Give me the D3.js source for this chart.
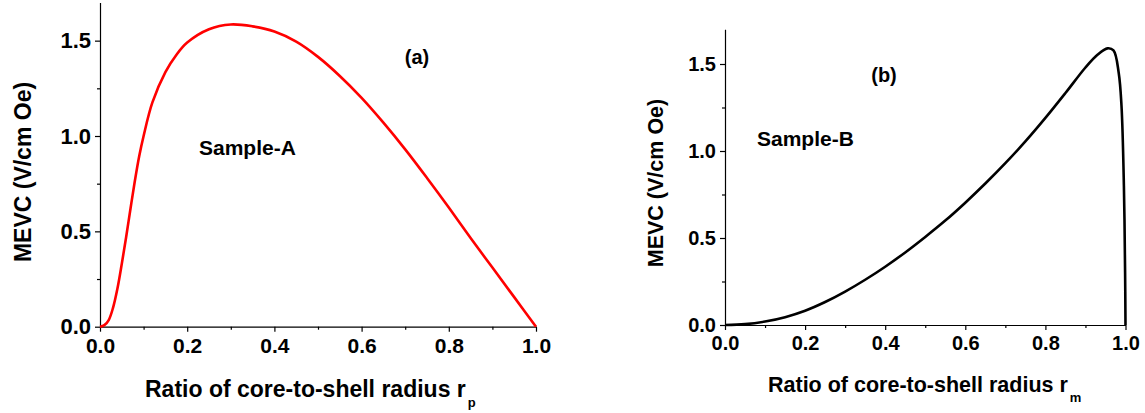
<!DOCTYPE html>
<html>
<head>
<meta charset="utf-8">
<script src="https://cdn.jsdelivr.net/npm/d3@7"></script>
<style>
  html, body { margin: 0; padding: 0; background: #fff; }
  svg text { font-family: "Liberation Sans", Arial, sans-serif; font-weight: bold; fill: #000; }
</style>
</head>
<body>
<svg id="chart" width="1145" height="413"></svg>
<script>
// Sample-A: MEVC versus core-to-shell radius ratio r_p
const ratioA = [0, 0.01, 0.02, 0.03, 0.04, 0.05, 0.06, 0.07, 0.08, 0.09, 0.10, 0.12, 0.15, 0.175, 0.20, 0.25, 0.30, 0.35, 0.40, 0.45, 0.50, 0.55, 0.60, 0.65, 0.70, 0.75, 0.80, 0.85, 0.90, 0.95, 1.00];
const mevcA  = [0, 0.008, 0.035, 0.10, 0.20, 0.33, 0.47, 0.62, 0.765, 0.895, 1.0, 1.175, 1.335, 1.425, 1.49, 1.56, 1.585, 1.575, 1.548, 1.495, 1.415, 1.315, 1.20, 1.07, 0.93, 0.78, 0.625, 0.465, 0.31, 0.155, 0];

// Sample-B: MEVC versus core-to-shell radius ratio r_m
const ratioB = [0, 0.05, 0.10, 0.15, 0.20, 0.25, 0.30, 0.35, 0.40, 0.45, 0.50, 0.55, 0.60, 0.65, 0.70, 0.75, 0.80, 0.85, 0.90, 0.93, 0.955, 0.97, 0.983, 0.99, 0.996, 0.999, 1.00];
const mevcB  = [0, 0.005, 0.02, 0.045, 0.082, 0.132, 0.192, 0.26, 0.335, 0.417, 0.506, 0.60, 0.703, 0.813, 0.93, 1.055, 1.19, 1.333, 1.48, 1.553, 1.59, 1.578, 1.45, 1.26, 0.80, 0.30, 0];

const xTicks = [0, 0.2, 0.4, 0.6, 0.8, 1.0];
const xMinorTicks = [0.1, 0.3, 0.5, 0.7, 0.9];
const yTicks = [0, 0.5, 1.0, 1.5];
const yMinorTicks = [0.25, 0.75, 1.25];

const yTitle = "MEVC (V/cm Oe)";
const xTitle = "Ratio of core-to-shell radius r";

const svg = d3.select("#chart");

function drawPanel(cfg) {
  const x = d3.scaleLinear().domain([0, 1]).range([cfg.left, cfg.right]);
  const y = d3.scaleLinear().domain([0, 1.7]).range([cfg.bottom, cfg.bottom - 1.7 * cfg.pxPerUnit]);
  const g = svg.append("g");

  // x axis: major ticks with labels, minor ticks without
  const xAxis = g.append("g")
    .attr("transform", `translate(0,${cfg.bottom})`)
    .call(d3.axisBottom(x).tickValues(xTicks).tickFormat(d3.format(".1f")).tickSize(5).tickSizeOuter(0).tickPadding(6));
  xAxis.selectAll("text").style("font-size", cfg.xTickFont + "px");
  g.append("g")
    .attr("transform", `translate(0,${cfg.bottom})`)
    .call(d3.axisBottom(x).tickValues(xMinorTicks).tickFormat("").tickSize(3).tickSizeOuter(0))
    .select(".domain").remove();

  // y axis
  const yAxis = g.append("g")
    .attr("transform", `translate(${cfg.left},0)`)
    .call(d3.axisLeft(y).tickValues(yTicks).tickFormat(d3.format(".1f")).tickSize(5).tickSizeOuter(0).tickPadding(4));
  yAxis.selectAll("text").style("font-size", cfg.yTickFont + "px");
  g.append("g")
    .attr("transform", `translate(${cfg.left},0)`)
    .call(d3.axisLeft(y).tickValues(yMinorTicks).tickFormat("").tickSize(3).tickSizeOuter(0))
    .select(".domain").remove();

  g.selectAll(".domain, .tick line").attr("stroke", "#000").attr("stroke-width", 1.2);

  // axis titles
  g.append("text")
    .attr("transform", `translate(${cfg.yTitleX},${cfg.yTitleY}) rotate(-90)`)
    .attr("text-anchor", "middle")
    .style("font-size", cfg.titleFont + "px")
    .text(yTitle);

  const xt = g.append("text")
    .attr("x", cfg.xTitleX)
    .attr("y", cfg.xTitleY)
    .style("font-size", cfg.titleFont + "px")
    .text(xTitle);
  xt.append("tspan")
    .attr("dy", 10)
    .attr("dx", 2)
    .style("font-size", "13px")
    .text(cfg.sub);

  // curve
  const line = d3.line()
    .x((d, i) => x(cfg.xs[i]))
    .y(d => y(d))
    .curve(d3.curveCatmullRom.alpha(0.5));
  g.append("path")
    .datum(cfg.ys)
    .attr("fill", "none")
    .attr("stroke", cfg.color)
    .attr("stroke-width", 2.6)
    .attr("stroke-linejoin", "round")
    .attr("d", line);

  // annotations
  g.append("text").attr("x", cfg.tagX).attr("y", cfg.tagY)
    .attr("text-anchor", "middle").style("font-size", "20px").text(cfg.tag);
  g.append("text").attr("x", cfg.sampleX).attr("y", cfg.sampleY)
    .style("font-size", "21px").text(cfg.sample);
}

drawPanel({
  left: 100, right: 536, bottom: 326.7, pxPerUnit: 190.7,
  xs: ratioA, ys: mevcA, color: "#ff0000",
  xTickFont: 21, yTickFont: 22, titleFont: 23,
  yTitleX: 31, yTitleY: 172, xTitleX: 145, xTitleY: 397, sub: "p",
  tag: "(a)", tagX: 417, tagY: 64,
  sample: "Sample-A", sampleX: 199, sampleY: 155
});

drawPanel({
  left: 725, right: 1125.5, bottom: 325, pxPerUnit: 174,
  xs: ratioB, ys: mevcB, color: "#000000",
  xTickFont: 20, yTickFont: 20, titleFont: 21.5,
  yTitleX: 663, yTitleY: 183, xTitleX: 768, xTitleY: 392, sub: "m",
  tag: "(b)", tagX: 884, tagY: 82,
  sample: "Sample-B", sampleX: 757, sampleY: 146
});
</script>
</body>
</html>
